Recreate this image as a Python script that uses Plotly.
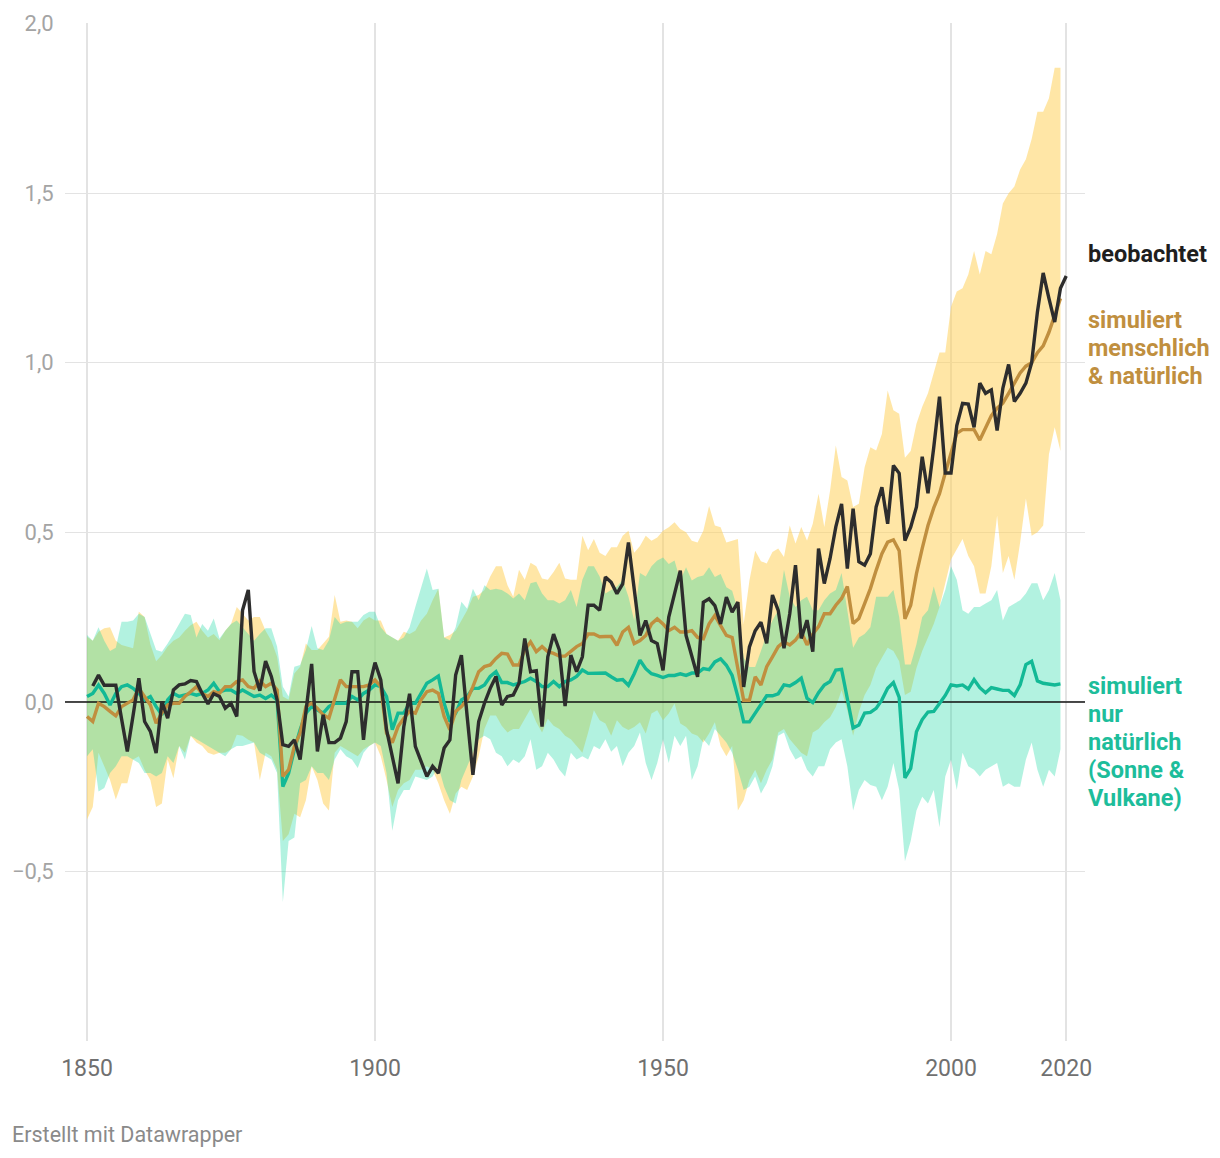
import plotly.graph_objects as go

# ---------------- data ----------------
sim_years = list(range(1850, 2020))
obs_years = list(range(1851, 2021))

observed = [
    0.047, 0.079, 0.049, 0.05, 0.049, -0.05, -0.146, -0.04, 0.07,            # 1851-1859
    -0.058, -0.087, -0.151, 0.001, -0.048, 0.035, 0.05, 0.053, 0.063, 0.06,  # 1860-1869
    0.025, -0.006, 0.024, 0.016, -0.019, -0.004, -0.043, 0.27, 0.33, 0.09,   # 1870-1879
    0.033, 0.12, 0.075, 0.006, -0.126, -0.131, -0.112, -0.17, -0.03, 0.112,  # 1880-1889
    -0.146, -0.038, -0.12, -0.12, -0.107, -0.058, 0.089, 0.089, -0.112, 0.045,  # 1890-1899
    0.116, 0.065, -0.082, -0.16, -0.24, -0.073, 0.024, -0.131, -0.175, -0.22,  # 1900-1909
    -0.19, -0.21, -0.136, -0.112, 0.079, 0.138, -0.043, -0.215, -0.058, -0.004,  # 1910-1919
    0.04, 0.075, -0.009, 0.016, 0.02, 0.055, 0.187, 0.089, 0.092, -0.073,    # 1920-1929
    0.133, 0.2, 0.153, -0.012, 0.138, 0.089, 0.133, 0.285, 0.285, 0.27,      # 1930-1939
    0.368, 0.353, 0.319, 0.348, 0.47, 0.33, 0.196, 0.24, 0.181, 0.172,       # 1940-1949
    0.093, 0.25, 0.319, 0.387, 0.196, 0.132, 0.074, 0.294, 0.304, 0.284,     # 1950-1959
    0.23, 0.309, 0.265, 0.294, 0.044, 0.162, 0.21, 0.235, 0.173, 0.315,      # 1960-1969
    0.27, 0.158, 0.26, 0.403, 0.187, 0.241, 0.148, 0.452, 0.349, 0.423,      # 1970-1979
    0.516, 0.584, 0.393, 0.57, 0.413, 0.403, 0.437, 0.575, 0.633, 0.525,     # 1980-1989
    0.697, 0.674, 0.476, 0.515, 0.575, 0.723, 0.615, 0.75, 0.9, 0.675,       # 1990-1999
    0.675, 0.815, 0.88, 0.878, 0.81, 0.94, 0.91, 0.92, 0.8, 0.925,           # 2000-2009
    0.995, 0.886, 0.91, 0.94, 1.0, 1.15, 1.265, 1.19, 1.12, 1.22,            # 2010-2019
    1.256,                                                                   # 2020
]

human_natural = [
    -0.043, -0.058, -0.004, -0.014, -0.028, -0.041, -0.014, -0.004, 0.006, 0.04,   # 1850
    0.016, -0.009, -0.063, -0.033, -0.009, -0.004, -0.004, 0.016, 0.03, 0.045,    # 1860
    0.025, 0.016, 0.03, 0.025, 0.045, 0.045, 0.06, 0.065, 0.045, 0.04,            # 1870
    0.062, 0.045, 0.055, 0.035, -0.22, -0.2, -0.131, -0.092, -0.014, -0.004,      # 1880
    -0.019, -0.038, -0.048, 0.006, 0.065, 0.045, 0.045, 0.045, 0.045, 0.05,       # 1890
    0.065, 0.045, -0.092, -0.12, -0.073, -0.048, -0.028, -0.033, 0.006, 0.03,     # 1900
    0.035, 0.025, -0.043, -0.082, -0.028, -0.014, 0.006, 0.045, 0.089, 0.104,     # 1910
    0.109, 0.128, 0.143, 0.141, 0.109, 0.109, 0.153, 0.177, 0.148, 0.163,         # 1920
    0.148, 0.143, 0.135, 0.135, 0.148, 0.163, 0.172, 0.2, 0.2, 0.192,             # 1930
    0.193, 0.193, 0.167, 0.206, 0.22, 0.172, 0.181, 0.196, 0.23, 0.245,           # 1940
    0.23, 0.21, 0.22, 0.206, 0.206, 0.21, 0.19, 0.186, 0.23, 0.255,               # 1950
    0.225, 0.196, 0.19, 0.103, 0.005, 0.005, 0.074, 0.05, 0.104, 0.133,           # 1960
    0.163, 0.177, 0.168, 0.182, 0.207, 0.168, 0.2, 0.222, 0.26, 0.26,             # 1970
    0.285, 0.305, 0.34, 0.231, 0.246, 0.29, 0.334, 0.388, 0.437, 0.471,           # 1980
    0.478, 0.446, 0.245, 0.285, 0.378, 0.453, 0.52, 0.572, 0.614, 0.675,          # 1990
    0.738, 0.792, 0.803, 0.803, 0.803, 0.772, 0.808, 0.844, 0.866, 0.881,         # 2000
    0.91, 0.94, 0.97, 0.99, 1.0, 1.03, 1.05, 1.09, 1.14, 1.19,                    # 2010
]

human_natural_hi = [
    0.192, 0.18, 0.207, 0.217, 0.22, 0.18, 0.168, 0.163, 0.158, 0.266,
    0.25, 0.17, 0.12, 0.138, 0.163, 0.18, 0.19, 0.21, 0.226, 0.236,
    0.21, 0.19, 0.2, 0.182, 0.21, 0.23, 0.28, 0.26, 0.24, 0.25,
    0.25, 0.21, 0.18, 0.133, 0.016, 0.006, 0.084, 0.104, 0.172, 0.153,
    0.153, 0.172, 0.192, 0.315, 0.236, 0.24, 0.236, 0.217, 0.24, 0.25,
    0.24, 0.24, 0.2, 0.19, 0.18, 0.207, 0.2, 0.21, 0.24, 0.26,
    0.3, 0.334, 0.19, 0.197, 0.21, 0.24, 0.27, 0.31, 0.315, 0.33,
    0.37, 0.4, 0.4, 0.344, 0.31, 0.39, 0.36, 0.41, 0.4, 0.364,
    0.36, 0.383, 0.41, 0.364, 0.36, 0.36, 0.49, 0.447, 0.48, 0.44,
    0.43, 0.456, 0.456, 0.49, 0.505, 0.44, 0.46, 0.49, 0.475, 0.485,
    0.505, 0.515, 0.53, 0.51, 0.5, 0.475, 0.47, 0.505, 0.578, 0.52,
    0.515, 0.47, 0.475, 0.48, 0.23, 0.358, 0.446, 0.415, 0.408, 0.442,
    0.452, 0.427, 0.52, 0.467, 0.516, 0.476, 0.525, 0.614, 0.516, 0.623,
    0.756, 0.663, 0.653, 0.575, 0.584, 0.692, 0.751, 0.741, 0.79, 0.918,
    0.86, 0.85, 0.72, 0.74, 0.82, 0.87, 0.91, 0.97, 1.03, 1.03,
    1.165, 1.21, 1.22, 1.26, 1.33, 1.26, 1.33, 1.32, 1.38, 1.47,
    1.5, 1.52, 1.57, 1.6, 1.66, 1.74, 1.74, 1.78, 1.87, 1.87,
]

human_natural_lo = [
    -0.347, -0.31, -0.15, -0.19, -0.23, -0.288, -0.24, -0.24, -0.17, -0.16,
    -0.2, -0.23, -0.31, -0.3, -0.17, -0.225, -0.13, -0.15, -0.1, -0.12,
    -0.13, -0.15, -0.156, -0.15, -0.15, -0.14, -0.097, -0.1, -0.112, -0.12,
    -0.23, -0.15, -0.16, -0.2, -0.41, -0.39, -0.33, -0.34, -0.29, -0.19,
    -0.23, -0.3, -0.32, -0.15, -0.13, -0.14, -0.15, -0.16, -0.14, -0.13,
    -0.12, -0.16, -0.23, -0.31, -0.26, -0.24, -0.23, -0.2, -0.2, -0.19,
    -0.2, -0.24, -0.29, -0.33, -0.27, -0.25, -0.26, -0.22, -0.16, -0.08,
    -0.04, -0.04, -0.07, -0.09, -0.08, -0.08, -0.05, -0.02, -0.06, -0.09,
    -0.05, -0.07, -0.08, -0.1, -0.11, -0.13, -0.15, -0.09, -0.025, -0.054,
    -0.064, -0.1, -0.054, -0.074, -0.083, -0.074, -0.06, -0.093, -0.034, -0.025,
    -0.054, -0.034, -0.005, -0.064, -0.074, -0.093, -0.1, -0.12, -0.093, -0.06,
    -0.13, -0.16, -0.13, -0.32, -0.29, -0.23, -0.2, -0.24, -0.2, -0.17,
    -0.09, -0.08, -0.11, -0.13, -0.15, -0.16, -0.09, -0.08, -0.06, -0.045,
    -0.015, 0.034, -0.025, -0.1, -0.03, 0.02, 0.05, 0.1, 0.13, 0.16,
    0.15, 0.12, 0.02, 0.03, 0.1, 0.15, 0.19, 0.23, 0.28, 0.35,
    0.42, 0.45, 0.48, 0.43, 0.4, 0.32, 0.32, 0.4, 0.55, 0.38,
    0.43, 0.36, 0.47, 0.6, 0.49, 0.5, 0.52, 0.73, 0.81, 0.74,
]

natural = [
    0.016, 0.025, 0.05, 0.025, -0.009, 0.025, 0.045, 0.05, 0.04, 0.025,
    0.006, 0.016, -0.014, -0.038, 0.006, 0.025, 0.016, 0.02, 0.025, 0.02,
    0.025, 0.035, 0.055, 0.03, 0.035, 0.035, 0.025, 0.035, 0.025, 0.016,
    0.02, 0.01, 0.02, 0.006, -0.25, -0.21, -0.141, -0.082, -0.033, -0.014,
    -0.024, -0.033, -0.014, -0.004, -0.004, -0.004, 0.016, 0.006, 0.025, 0.035,
    0.05, 0.045, 0.016, -0.082, -0.033, -0.033, -0.004, -0.004, 0.025, 0.055,
    0.065, 0.076, -0.004, -0.058, -0.033, 0.006, 0.016, 0.04, 0.04, 0.05,
    0.075, 0.089, 0.057, 0.057, 0.05, 0.055, 0.06, 0.07, 0.06, 0.045,
    0.045, 0.06, 0.045, 0.06, 0.065, 0.075, 0.094, 0.084, 0.084, 0.084,
    0.085, 0.074, 0.064, 0.066, 0.049, 0.083, 0.123, 0.098, 0.083, 0.078,
    0.072, 0.078, 0.078, 0.083, 0.078, 0.085, 0.085, 0.098, 0.095, 0.118,
    0.127, 0.108, 0.078, 0.015, -0.059, -0.059, -0.034, -0.01, 0.018, 0.018,
    0.024, 0.05, 0.047, 0.057, 0.07, 0.011, -0.002, 0.027, 0.05, 0.06,
    0.094, 0.096, 0.011, -0.077, -0.068, -0.033, -0.031, -0.019, 0.006, 0.04,
    0.057, 0.013, -0.224, -0.196, -0.088, -0.052, -0.03, -0.028, -0.005, 0.019,
    0.05, 0.047, 0.05, 0.038, 0.066, 0.042, 0.027, 0.042, 0.038, 0.034,
    0.034, 0.019, 0.05, 0.11, 0.12, 0.062, 0.055, 0.053, 0.05, 0.053,
]

natural_hi = [
    0.197, 0.18, 0.22, 0.18, 0.15, 0.16, 0.236, 0.236, 0.24, 0.26,
    0.25, 0.2, 0.153, 0.148, 0.172, 0.2, 0.23, 0.26, 0.256, 0.19,
    0.23, 0.21, 0.246, 0.187, 0.21, 0.23, 0.24, 0.22, 0.2, 0.18,
    0.2, 0.217, 0.217, 0.163, 0.045, 0.016, 0.104, 0.109, 0.153, 0.224,
    0.158, 0.153, 0.182, 0.25, 0.23, 0.236, 0.236, 0.236, 0.256, 0.266,
    0.266, 0.22, 0.2, 0.19, 0.18, 0.19, 0.22, 0.28, 0.34, 0.393,
    0.33, 0.334, 0.19, 0.182, 0.22, 0.295, 0.275, 0.334, 0.3, 0.344,
    0.33, 0.334, 0.33, 0.32, 0.305, 0.32, 0.3, 0.35, 0.354, 0.32,
    0.3, 0.3, 0.29, 0.3, 0.33, 0.28, 0.36, 0.4, 0.4, 0.37,
    0.32, 0.33, 0.34, 0.36, 0.31, 0.24, 0.38, 0.37, 0.4, 0.417,
    0.426, 0.407, 0.417, 0.358, 0.397, 0.358, 0.368, 0.373, 0.397, 0.368,
    0.377, 0.338, 0.328, 0.27, 0.13, 0.103, 0.103, 0.15, 0.2, 0.24,
    0.27, 0.39, 0.31, 0.28, 0.3, 0.31, 0.27, 0.27, 0.3, 0.32,
    0.33, 0.38, 0.27, 0.16, 0.19, 0.2, 0.22, 0.31, 0.31, 0.31,
    0.33, 0.25, 0.11, 0.11, 0.17, 0.25, 0.27, 0.34, 0.28, 0.33,
    0.4, 0.36, 0.27, 0.26, 0.28, 0.28, 0.29, 0.3, 0.33, 0.24,
    0.28, 0.29, 0.3, 0.32, 0.35, 0.35, 0.3, 0.33, 0.38, 0.3,
]

natural_lo = [
    -0.16, -0.14, -0.264, -0.254, -0.21, -0.19, -0.16, -0.16, -0.17, -0.18,
    -0.21, -0.21, -0.22, -0.21, -0.16, -0.18, -0.13, -0.17, -0.1, -0.11,
    -0.12, -0.13, -0.14, -0.15, -0.16, -0.14, -0.13, -0.13, -0.126, -0.12,
    -0.15, -0.16, -0.17, -0.21, -0.59, -0.41, -0.4, -0.24, -0.23, -0.19,
    -0.21, -0.21, -0.23, -0.17, -0.14, -0.16, -0.17, -0.195, -0.15, -0.13,
    -0.12, -0.13, -0.21, -0.38, -0.29, -0.26, -0.26, -0.22, -0.225, -0.23,
    -0.22, -0.19, -0.25, -0.29, -0.3, -0.23, -0.19, -0.15, -0.11, -0.1,
    -0.11, -0.15, -0.16, -0.19, -0.17, -0.18, -0.16, -0.11, -0.2, -0.19,
    -0.15, -0.17, -0.2, -0.22, -0.15, -0.17, -0.16, -0.17, -0.13, -0.14,
    -0.11, -0.147, -0.13, -0.19, -0.15, -0.13, -0.09, -0.18, -0.23, -0.18,
    -0.11, -0.18, -0.1, -0.13, -0.1, -0.23, -0.19, -0.11, -0.13, -0.08,
    -0.1, -0.12, -0.15, -0.2, -0.26, -0.25, -0.22, -0.27, -0.24, -0.19,
    -0.1, -0.09, -0.14, -0.17, -0.16, -0.2, -0.22, -0.19, -0.19, -0.14,
    -0.12, -0.11, -0.19, -0.32, -0.26, -0.23, -0.245, -0.25, -0.29, -0.25,
    -0.18, -0.26, -0.47, -0.41, -0.32, -0.28, -0.3, -0.26, -0.37, -0.22,
    -0.17, -0.26, -0.15, -0.19, -0.2, -0.22, -0.2, -0.19, -0.18, -0.25,
    -0.24, -0.25, -0.25, -0.17, -0.12, -0.2, -0.25, -0.2, -0.22, -0.14,
]

x_ticks = [1850, 1900, 1950, 2000, 2020]
y_ticks = [-0.5, 0.0, 0.5, 1.0, 1.5, 2.0]
y_tick_text = ["\u22120,5", "0,0", "0,5", "1,0", "1,5", "2,0"]

# right-hand labels: one entry per text line, with the data-y of that line
label_observed = [("beobachtet", 1.321)]
label_human = [("simuliert", 1.126), ("menschlich", 1.044), ("&amp; natürlich", 0.961)]
label_natural = [("simuliert", 0.047), ("nur", -0.036), ("natürlich", -0.118),
                 ("(Sonne &amp;", -0.201), ("Vulkane)", -0.283)]

X_RANGE = [1846.18, 2023.26]
Y_RANGE = [-1.0, 2.002]

# ---------------- styles ----------------
YELLOW_BAND = "rgba(255,210,93,0.55)"
TEAL_BAND = "rgba(28,217,164,0.34)"
BLACK = "#2d2d2d"
BROWN = "#c08f3f"
TEAL = "#13b996"
TEAL_TEXT = "#1dbd9b"
FONT = "Roboto"

fig = go.Figure()

# band: human + natural
fig.add_trace(go.Scatter(
    x=sim_years + sim_years[::-1],
    y=human_natural_hi + human_natural_lo[::-1],
    fill="toself", fillcolor=YELLOW_BAND, line=dict(width=0),
    mode="lines", hoverinfo="skip", showlegend=False))

# band: natural only
fig.add_trace(go.Scatter(
    x=sim_years + sim_years[::-1],
    y=natural_hi + natural_lo[::-1],
    fill="toself", fillcolor=TEAL_BAND, line=dict(width=0),
    mode="lines", hoverinfo="skip", showlegend=False))

# zero reference line (above bands, below data lines)
fig.add_trace(go.Scatter(
    x=X_RANGE, y=[0, 0], mode="lines",
    line=dict(color="#111111", width=1.5), hoverinfo="skip", showlegend=False))

fig.add_trace(go.Scatter(
    x=sim_years, y=natural, mode="lines",
    line=dict(color=TEAL, width=3.4), showlegend=False))
fig.add_trace(go.Scatter(
    x=sim_years, y=human_natural, mode="lines",
    line=dict(color=BROWN, width=3.4), showlegend=False))
fig.add_trace(go.Scatter(
    x=obs_years, y=observed, mode="lines",
    line=dict(color=BLACK, width=3.4), showlegend=False))

# labels at the right
LABEL_SIZE = 23.5
for lines, color in ((label_observed, "#1e1e1e"), (label_human, BROWN),
                     (label_natural, TEAL_TEXT)):
    for txt, yv in lines:
        fig.add_annotation(x=1.0, xref="paper", xshift=1, y=yv, yref="y",
                           text="<b>" + txt + "</b>", showarrow=False,
                           xanchor="left", yanchor="middle", align="left",
                           font=dict(family=FONT, size=LABEL_SIZE, color=color))

# footer
fig.add_annotation(x=-0.0539, xref="paper", y=-0.0923, yref="paper",
                   text="Erstellt mit Datawrapper", showarrow=False,
                   xanchor="left", yanchor="middle",
                   font=dict(family=FONT, size=21.5, color="#8a8a8a"))

fig.update_layout(
    width=1220, height=1158,
    margin=dict(l=65, r=135, t=23, b=117),
    paper_bgcolor="white", plot_bgcolor="white",
    font=dict(family=FONT),
    showlegend=False,
    xaxis=dict(range=X_RANGE, tickvals=x_ticks, ticktext=[str(v) for v in x_ticks],
               showgrid=True, gridcolor="#e3e3e3", gridwidth=1.5,
               zeroline=False, showline=False,
               ticks="outside", ticklen=6, tickcolor="rgba(0,0,0,0)",
               tickfont=dict(family=FONT, size=23, color="#707070")),
    yaxis=dict(range=Y_RANGE, tickvals=y_ticks, ticktext=y_tick_text,
               showgrid=True, gridcolor="#e3e3e3", gridwidth=1,
               zeroline=False, showline=False,
               ticks="outside", ticklen=6, tickcolor="rgba(0,0,0,0)",
               tickfont=dict(family=FONT, size=22, color="#a4a4a4")),
)

fig.write_html("out.html")
